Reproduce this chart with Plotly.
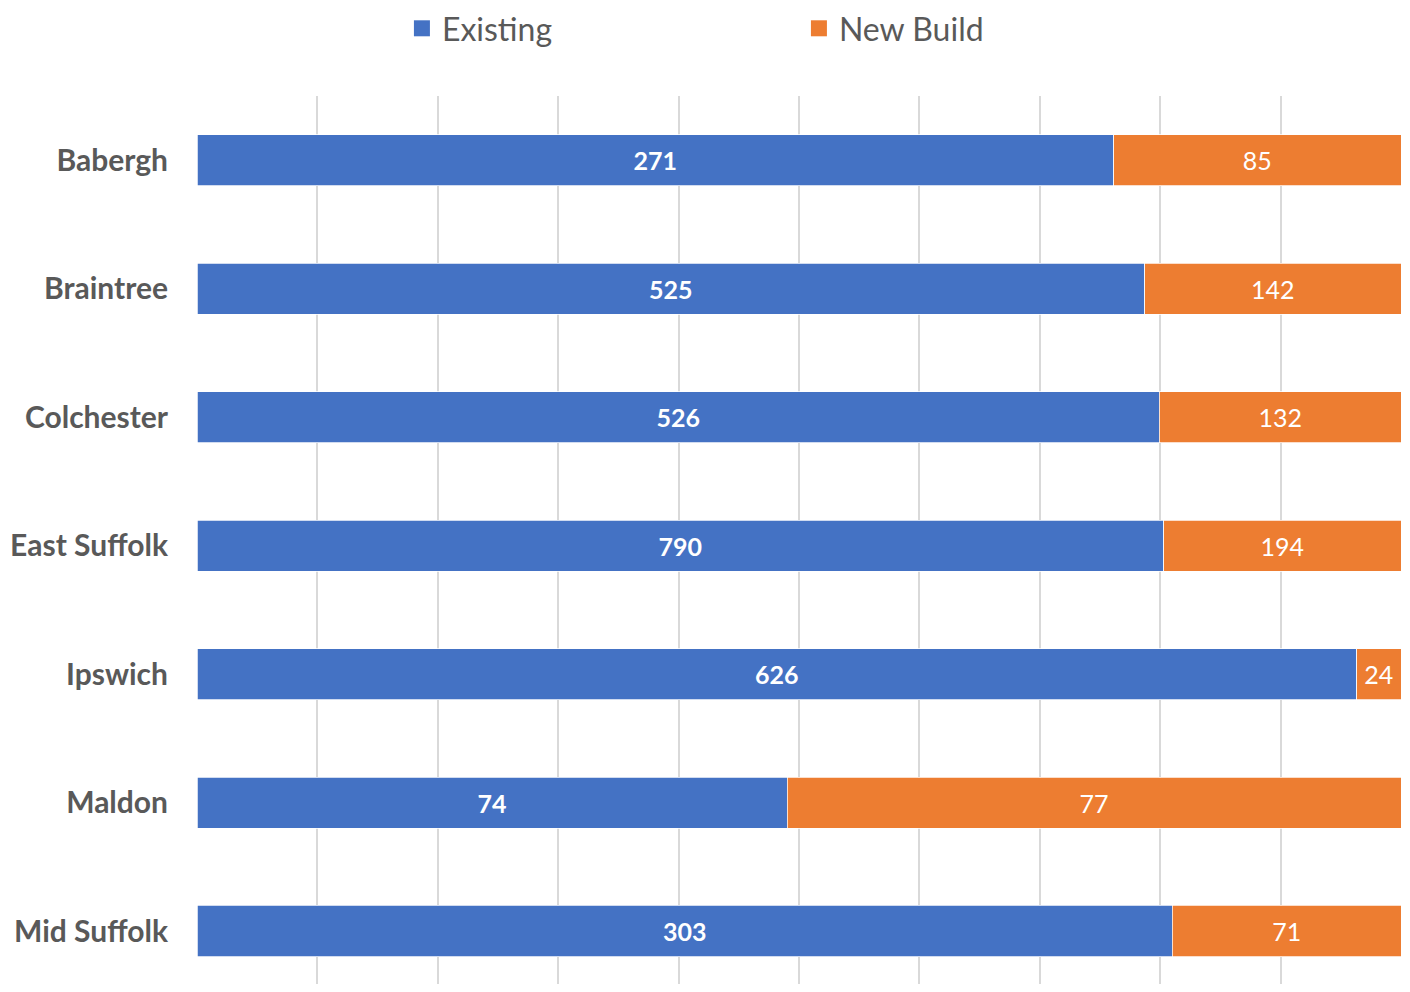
import plotly.graph_objects as go

categories = ["Babergh", "Braintree", "Colchester", "East Suffolk", "Ipswich", "Maldon", "Mid Suffolk"]
existing = [271, 525, 526, 790, 626, 74, 303]
new_build = [85, 142, 132, 194, 24, 77, 71]
series_names = ["Existing", "New Build"]
series_colors = ["#4472C4", "#ED7D31"]

FONT = "Lato"
GRAY = "#595959"

fig = go.Figure()
for name, vals, color, wt in zip(series_names, [existing, new_build], series_colors, ["bold", "normal"]):
    fig.add_trace(go.Bar(
        name=name, y=categories, x=vals, orientation="h",
        marker=dict(color=color, line=dict(color="white", width=0.75)),
        text=vals, textposition="inside", insidetextanchor="middle",
        textfont=dict(family=FONT, size=25, color="white", weight=wt),
        showlegend=False, legendgroup=name,
        hoverinfo="y+x+name",
    ))
# legend entries with larger square swatches
for name, color in zip(series_names, series_colors):
    fig.add_trace(go.Scatter(
        name=name, x=[None], y=[None], mode="markers",
        marker=dict(symbol="square", size=20, color=color),
        legendgroup=name, showlegend=True,
    ))

fig.update_layout(
    width=1394, height=976,
    barmode="stack", barnorm="percent", bargap=0.6,
    plot_bgcolor="white", paper_bgcolor="white",
    margin=dict(l=189, r=1, t=88, b=0, autoexpand=False),
    font=dict(family=FONT, color=GRAY),
    legend=dict(
        orientation="h", x=0.1702, xanchor="left",
        yref="container", y=0.979, yanchor="middle",
        font=dict(family=FONT, size=32, color=GRAY),
        entrywidth=352, entrywidthmode="pixels",
        traceorder="normal",
    ),
    xaxis=dict(
        range=[0, 100], dtick=10, showgrid=True, gridcolor="#d9d9d9", gridwidth=2,
        showticklabels=False, zeroline=False, showline=True, linecolor="#d9d9d9", linewidth=2,
        fixedrange=True,
    ),
    yaxis=dict(
        type="category", categoryorder="array", categoryarray=categories,
        range=[6.411, -0.5], showgrid=False, zeroline=False,
        ticks="", ticklabelstandoff=28,
        tickfont=dict(family=FONT, size=30, color=GRAY, weight="bold"),
        fixedrange=True,
    ),
)

fig.write_html("out.html")
